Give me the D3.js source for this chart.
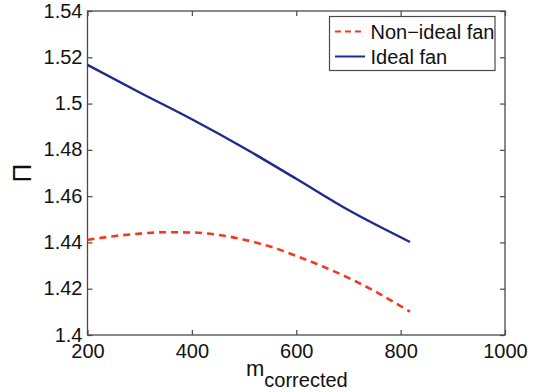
<!DOCTYPE html>
<html><head><meta charset="utf-8">
<script src="https://cdn.jsdelivr.net/npm/d3@7"></script>
<style>body{margin:0;background:#fff}svg{display:block}text{font-family:"Liberation Sans",Arial,Helvetica,sans-serif}</style>
</head><body><svg id="c" width="536" height="392"></svg>
<script>
const idealX = [200, 300, 400, 500, 600, 700, 818];
const idealY = [1.5167, 1.5048, 1.4932, 1.4808, 1.4675, 1.4540, 1.4402];
const nonIdealX = [200, 250, 300, 350, 400, 450, 500, 550, 600, 650, 700, 750, 800, 818];
const nonIdealY = [1.4411, 1.4427, 1.4438, 1.4444, 1.4443, 1.4433, 1.4412, 1.4382, 1.4342, 1.4297, 1.4247, 1.4190, 1.4125, 1.4101];
const xTicks = [200, 400, 600, 800, 1000];
const yTicks = [1.4, 1.42, 1.44, 1.46, 1.48, 1.5, 1.52, 1.54];
const legendLabels = ["Non\u2212ideal fan", "Ideal fan"];

const svg = d3.select("#c");
const L = 87.5, R = 505, T = 11, B = 335;
const x = d3.scaleLinear().domain([200, 1000]).range([L, R]);
const y = d3.scaleLinear().domain([1.4, 1.54]).range([B, T]);
const axisCol = "#4a4a4a";
const fs = 20;

svg.append("rect").attr("x", L).attr("y", T).attr("width", R - L).attr("height", B - T)
  .attr("fill", "none").attr("stroke", axisCol).attr("stroke-width", 1.3);

const xAx = svg.append("g").attr("transform", `translate(0,${B})`)
  .call(d3.axisBottom(x).tickValues(xTicks).tickSize(-5).tickFormat(d3.format("d")));
const xAxTop = svg.append("g").attr("transform", `translate(0,${T})`)
  .call(d3.axisTop(x).tickValues(xTicks).tickSize(-5).tickFormat(""));
const yAx = svg.append("g").attr("transform", `translate(${L},0)`)
  .call(d3.axisLeft(y).tickValues(yTicks).tickSize(-5).tickPadding(5).tickFormat(d => String(+d.toFixed(2))));
const yAxR = svg.append("g").attr("transform", `translate(${R},0)`)
  .call(d3.axisRight(y).tickValues(yTicks).tickSize(-5).tickFormat(""));
[xAx, xAxTop, yAx, yAxR].forEach(g => {
  g.select(".domain").remove();
  g.selectAll(".tick line").attr("stroke", axisCol).attr("stroke-width", 1.2);
  g.selectAll("text").attr("fill", "#111").attr("font-size", fs)
    .attr("font-family", "'Liberation Sans',Arial,sans-serif");
});
xAx.selectAll("text").attr("dy", null).attr("y", 23);
yAx.selectAll("text").attr("dy", "0.3em");

const line = d3.line().x(d => x(d[0])).y(d => y(d[1])).curve(d3.curveMonotoneX);
svg.append("path").datum(nonIdealX.map((v, i) => [v, nonIdealY[i]]))
  .attr("d", line).attr("fill", "none").attr("stroke", "#f43a1e")
  .attr("stroke-width", 2.6).attr("stroke-dasharray", "7,5");
svg.append("path").datum(idealX.map((v, i) => [v, idealY[i]]))
  .attr("d", line).attr("fill", "none").attr("stroke", "#1f2a8c")
  .attr("stroke-width", 2.4);

const lg = svg.append("g");
lg.append("rect").attr("x", 329.5).attr("y", 16.5).attr("width", 165.5).attr("height", 54)
  .attr("fill", "#fff").attr("stroke", axisCol).attr("stroke-width", 1.2);
const legendStyles = [
  {c: "#f43a1e", dash: "6,4", w: 2},
  {c: "#1f2a8c", dash: null, w: 2}
];
legendLabels.forEach((t, i) => {
  const yy = 31.5 + i * 25;
  lg.append("line").attr("x1", 335).attr("x2", 365).attr("y1", yy).attr("y2", yy)
    .attr("stroke", legendStyles[i].c).attr("stroke-width", legendStyles[i].w)
    .attr("stroke-dasharray", legendStyles[i].dash);
  lg.append("text").attr("x", 370.5).attr("y", yy).attr("dy", "0.36em")
    .attr("font-size", fs).attr("fill", "#111").text(t);
});

const xl = svg.append("text").attr("x", 246).attr("y", 376).attr("font-size", 22).attr("fill", "#111");
xl.append("tspan").text("m");
xl.append("tspan").attr("dy", 11).attr("font-size", fs).text("corrected");

svg.append("text").attr("transform", "translate(31,173) rotate(-90)")
  .attr("text-anchor", "middle").attr("font-size", 26).attr("fill", "#111")
  .attr("font-family", "'Liberation Serif','DejaVu Serif',serif").text("\u03A0");
</script></body></html>
